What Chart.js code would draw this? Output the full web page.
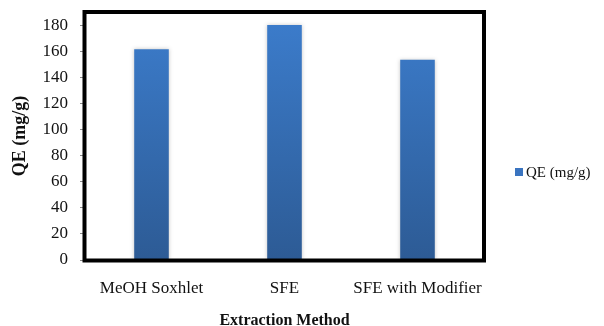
<!DOCTYPE html>
<html>
<head>
<meta charset="utf-8">
<script src="https://cdn.jsdelivr.net/npm/chart.js@4/dist/chart.umd.min.js"></script>
<style>
  html, body { margin: 0; padding: 0; background: #fff; }
  #wrap { width: 604px; height: 326px; position: relative; }
</style>
</head>
<body>
<div id="wrap"><canvas id="c" width="604" height="326"></canvas></div>
<script>
// Extraction methods and their quercetin-equivalent yields
const categories = ['MeOH Soxhlet', 'SFE', 'SFE with Modifier'];
const seriesName = 'QE (mg/g)';
const qeValues = [161.5, 180, 153.5];
const yTickValues = [0, 20, 40, 60, 80, 100, 120, 140, 160, 180];

const serif = "'Liberation Serif', 'Times New Roman', serif";

// Vertical blue gradient used for every bar
function barFill(ctx) {
  const chart = ctx.chart;
  const area = chart.chartArea;
  if (!area) return '#3a76c4';
  const g = chart.ctx.createLinearGradient(0, area.top, 0, area.bottom);
  g.addColorStop(0, '#3c7dcd');
  g.addColorStop(1, '#2d5b95');
  return g;
}

// Soft glow around the bars
const barShadow = {
  id: 'barShadow',
  beforeDatasetsDraw(chart) {
    const c = chart.ctx;
    c.save();
    c.shadowColor = 'rgba(0,0,0,0.22)';
    c.shadowBlur = 4;
    c.shadowOffsetX = 0;
    c.shadowOffsetY = 0;
  },
  afterDatasetsDraw(chart) {
    chart.ctx.restore();
  }
};

// Heavy black frame round the plot area
const plotFrame = {
  id: 'plotFrame',
  afterDraw(chart) {
    const { left, top, right, bottom } = chart.chartArea;
    const c = chart.ctx;
    c.save();
    c.strokeStyle = '#000';
    c.lineWidth = 4;
    c.strokeRect(left - 0.5, top, right - left + 0.5, bottom - top + 0.5);
    c.restore();
  }
};

// Single-entry legend to the right of the plot
const sideLegend = {
  id: 'sideLegend',
  afterDraw(chart) {
    const c = chart.ctx;
    const area = chart.chartArea;
    const x = area.right + 31;
    const y = area.top + 160;
    c.save();
    c.fillStyle = '#3a74c0';
    c.fillRect(x, y - 4, 8, 8);
    c.fillStyle = '#111';
    c.font = '15px ' + serif;
    c.textBaseline = 'middle';
    c.textAlign = 'left';
    c.fillText(chart.data.datasets[0].label, x + 11, y + 1);
    c.restore();
  }
};

new Chart(document.getElementById('c'), {
  type: 'bar',
  data: {
    labels: categories,
    datasets: [{
      label: seriesName,
      data: qeValues,
      backgroundColor: barFill,
      borderWidth: 0,
      categoryPercentage: 1,
      barPercentage: 0.26
    }]
  },
  options: {
    responsive: false,
    animation: false,
    devicePixelRatio: 1,
    layout: { padding: { top: 12, right: 120, left: 0, bottom: 0 } },
    plugins: {
      legend: { display: false },
      tooltip: { enabled: false }
    },
    scales: {
      x: {
        grid: { display: false, drawTicks: false },
        border: { display: false },
        ticks: {
          color: '#111',
          font: { family: serif, size: 17 },
          padding: 18,
          maxRotation: 0,
          autoSkip: false
        },
        title: {
          display: true,
          text: 'Extraction Method',
          color: '#111',
          font: { family: serif, size: 16, weight: 'bold', lineHeight: 1 },
          padding: { top: 0, bottom: -3 }
        },
        afterFit(scale) { scale.height = 66; }
      },
      y: {
        min: 0,
        max: 190,
        grid: {
          drawOnChartArea: false,
          drawTicks: true,
          tickLength: 5,
          color: '#8a8a8a'
        },
        border: { display: false },
        afterBuildTicks(scale) {
          scale.ticks = yTickValues.map(v => ({ value: v }));
        },
        ticks: {
          color: '#111',
          font: { family: serif, size: 17 },
          padding: 12
        },
        title: {
          display: true,
          text: 'QE (mg/g)',
          color: '#111',
          font: { family: serif, size: 18, weight: 'bold' },
          padding: { top: 10, bottom: 0 }
        },
        afterFit(scale) {
          scale.width = 85;
          scale.paddingTop = 0;
          scale.paddingBottom = 0;
        }
      }
    }
  },
  plugins: [barShadow, plotFrame, sideLegend]
});
</script>
</body>
</html>
